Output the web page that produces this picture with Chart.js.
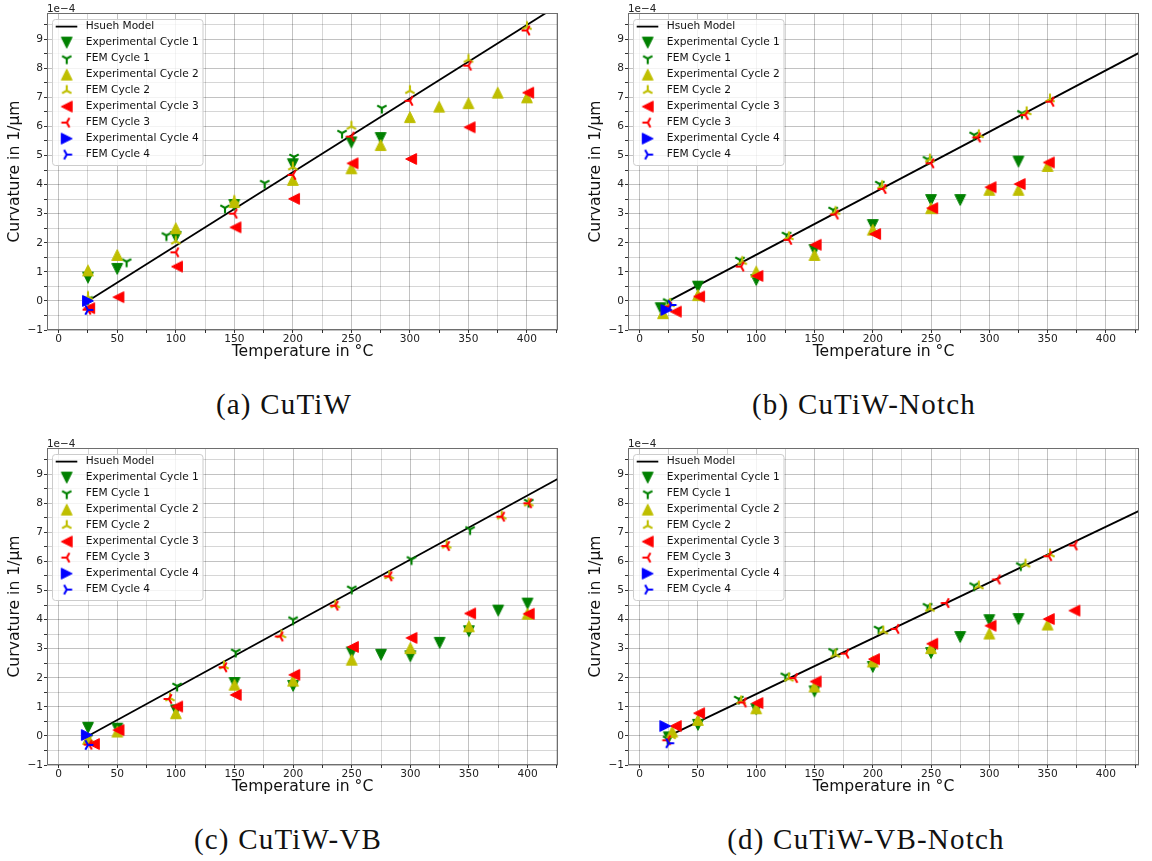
<!DOCTYPE html>
<html><head><meta charset="utf-8">
<script src="https://cdn.jsdelivr.net/npm/chart.js@4.4.1/dist/chart.umd.min.js"></script>
<style>
html,body{margin:0;padding:0;background:#fff;}
body{width:1152px;height:861px;position:relative;overflow:hidden;}
.panel{position:absolute;width:576px;height:370px;}
.cap{position:absolute;font-family:'Liberation Serif',serif;font-size:29px;line-height:29px;letter-spacing:1.2px;color:#111;white-space:nowrap;transform:translateX(-50%);}
</style></head>
<body>
<div class="panel" style="left:0;top:0"><canvas id="ca" width="576" height="370"></canvas></div>
<div class="panel" style="left:576px;top:0"><canvas id="cb" width="576" height="370"></canvas></div>
<div class="panel" style="left:0;top:435px"><canvas id="cc" width="576" height="370"></canvas></div>
<div class="panel" style="left:576px;top:435px"><canvas id="cd" width="576" height="370"></canvas></div>
<div class="cap" style="left:284px;top:390px">(a) CuTiW</div>
<div class="cap" style="left:864px;top:390px">(b) CuTiW-Notch</div>
<div class="cap" style="left:288px;top:825px">(c) CuTiW-VB</div>
<div class="cap" style="left:866px;top:825px">(d) CuTiW-VB-Notch</div>
<script>
// ---- series meta ----
const seriesNames = ['Hsueh Model','Experimental Cycle 1','FEM Cycle 1','Experimental Cycle 2','FEM Cycle 2','Experimental Cycle 3','FEM Cycle 3','Experimental Cycle 4','FEM Cycle 4'];
const seriesColors = ['#000000','#008000','#008000','#bfbf00','#bfbf00','#ff0000','#ff0000','#0000ff','#0000ff'];
const seriesMarkers = ['line','v','1','^','2','<','3','>','4'];

// ---- tick labels ----
const xTickLabels = ['0','50','100','150','200','250','300','350','400'];
const yTickLabels = ['\u22121','0','1','2','3','4','5','6','7','8','9'];
const yOffsetText = '1e\u22124';

// ---- (a) CuTiW  (curvature in 1e-4 1/µm) ----
const aHsueh = [[25,0],[428,10.2]];
const aExp1 = [[25,0.8],[50,1.1],[100,2.2],[150,3.3],[200,4.7],[250,5.45],[275,5.6]];
const aFem1 = [[25,0.05],[58,1.35],[92,2.25],[142,3.2],[176,4.05],[201,4.95],[242,5.77],[276,6.63]];
const aExp2 = [[25,1.05],[50,1.58],[100,2.5],[150,3.4],[200,4.16],[250,4.56],[275,5.36],[300,6.32],[325,6.68],[350,6.8],[375,7.16],[400,7.0]];
const aFem2 = [[25,0.15],[100,2.05],[150,3.45],[200,4.6],[250,6.0],[300,7.23],[350,8.3],[400,9.43]];
const aExp3 = [[26,-0.25],[51,0.13],[101,1.18],[151,2.53],[201,3.51],[251,4.73],[301,4.88],[351,5.97],[401,7.16]];
const aFem3 = [[25,-0.3],[100,1.67],[150,3.0],[200,4.33],[250,5.65],[300,6.88],[350,8.09],[400,9.3]];
const aExp4 = [[25,0.0]];
const aFem4 = [[25,-0.31]];

// ---- (b) CuTiW-Notch ----
const bHsueh = [[25,0],[428,8.52]];
const bExp1 = [[18,-0.25],[50,0.49],[100,0.72],[150,1.75],[200,2.61],[250,3.47],[275,3.47],[325,4.79]];
const bFem1 = [[24,-0.02],[86,1.41],[126,2.27],[166,3.13],[206,4.02],[247,4.87],[287,5.71],[328,6.45]];
const bExp2 = [[20,-0.42],[50,0.2],[100,1.01],[150,1.58],[200,2.45],[250,3.19],[300,3.82],[325,3.82],[350,4.64]];
const bFem2 = [[26,-0.1],[88,1.35],[128,2.2],[168,3.07],[208,3.96],[249,4.87],[291,5.71],[332,6.5],[352,6.94]];
const bExp3 = [[31,-0.37],[51,0.15],[101,0.86],[151,1.93],[202,2.3],[251,3.19],[301,3.91],[326,4.02],[351,4.76]];
const bFem3 = [[25,-0.2],[87,1.18],[128,2.1],[168,2.97],[209,3.85],[250,4.73],[290,5.62],[331,6.39],[353,6.85]];
const bExp4 = [[23,-0.31]];
const bFem4 = [[27,-0.14]];

// ---- (c) CuTiW-VB ----
const cHsueh = [[25,0],[428,8.89]];
const cExp1 = [[25,0.28],[50,0.25],[100,0.88],[150,1.82],[200,1.72],[250,2.87],[275,2.79],[300,2.74],[325,3.2],[350,3.6],[375,4.31],[400,4.55]];
const cFem1 = [[25,-0.05],[101,1.72],[151,2.89],[200,4.0],[250,5.06],[301,6.07],[351,7.1],[401,8.04]];
const cExp2 = [[25,-0.1],[50,0.15],[100,0.78],[150,1.76],[200,1.9],[250,2.62],[300,3.02],[350,3.77],[400,4.2]];
const cFem2 = [[27,-0.15],[95,1.3],[141,2.4],[190,3.47],[236,4.5],[282,5.5],[331,6.55],[378,7.55],[401,8.0]];
const cExp3 = [[30,-0.28],[51,0.2],[101,1.01],[151,1.41],[201,2.1],[251,3.06],[301,3.37],[351,4.21],[401,4.2]];
const cFem3 = [[26,-0.3],[94,1.27],[141,2.36],[189,3.42],[236,4.48],[282,5.49],[331,6.53],[378,7.54],[401,8.0]];
const cExp4 = [[24,0.03]];
const cFem4 = [[25,-0.31]];

// ---- (d) CuTiW-VB-Notch ----
const dHsueh = [[25,0],[428,7.73]];
const dExp1 = [[25,-0.05],[50,0.38],[100,0.92],[150,1.53],[200,2.37],[250,2.85],[275,3.4],[300,3.98],[325,4.02]];
const dFem1 = [[24,-0.1],[85,1.27],[125,2.07],[166,2.91],[205,3.68],[247,4.46],[287,5.17],[327,5.86]];
const dExp2 = [[28,0.15],[50,0.55],[100,0.95],[150,1.7],[200,2.56],[250,3.02],[300,3.52],[350,3.83]];
const dFem2 = [[27,0.0],[87,1.2],[128,1.98],[168,2.8],[209,3.6],[249,4.38],[291,5.15],[331,5.9],[352,6.25]];
const dExp3 = [[31,0.34],[51,0.78],[101,1.13],[151,1.87],[201,2.64],[251,3.17],[301,3.79],[351,4.02],[373,4.31]];
const dFem3 = [[24,-0.15],[89,1.15],[133,1.99],[177,2.83],[220,3.68],[263,4.57],[307,5.38],[351,6.18],[373,6.55]];
const dExp4 = [[22,0.34]];
const dFem4 = [[25,-0.25]];

// ---- marker images (matplotlib-like) ----
function makeMarker(kind, color){
  const c = document.createElement('canvas'); c.width = 16; c.height = 16;
  const g = c.getContext('2d'); g.translate(8,8);
  g.fillStyle = color; g.strokeStyle = color;
  const r = 5.4, s = 5.4;
  const tri = {'v':[[-r,-r],[r,-r],[0,r]], '^':[[0,-r],[-r,r],[r,r]], '<':[[-r,0],[r,-r],[r,r]], '>':[[r,0],[-r,-r],[-r,r]]};
  const arms = {'1':[[0,s],[-0.866*s,-0.5*s],[0.866*s,-0.5*s]], '2':[[0,-s],[-0.866*s,0.5*s],[0.866*s,0.5*s]],
                '3':[[-s,0],[0.5*s,-0.866*s],[0.5*s,0.866*s]], '4':[[s,0],[-0.5*s,-0.866*s],[-0.5*s,0.866*s]]};
  if (tri[kind]) {
    const p = tri[kind];
    g.beginPath(); g.moveTo(p[0][0],p[0][1]); g.lineTo(p[1][0],p[1][1]); g.lineTo(p[2][0],p[2][1]); g.closePath();
    g.fill(); g.lineWidth = 1; g.lineJoin = 'miter'; g.stroke();
  } else if (arms[kind]) {
    g.lineWidth = 2.1; g.lineCap = 'butt';
    g.beginPath();
    arms[kind].forEach(([x,y]) => { g.moveTo(0,0); g.lineTo(x,y); });
    g.stroke();
  }
  return c;
}
const markerImgs = seriesMarkers.map((m,i) => m === 'line' ? null : makeMarker(m, seriesColors[i]));

const xMajor = xTickLabels.map(Number);
const yMajor = yTickLabels.map(s => Number(s.replace('\u2212','-')));

Chart.defaults.font.family = "'DejaVu Sans', sans-serif";

const decor = {
  id: 'decor',
  afterDatasetsDraw(chart){
    const ctx = chart.ctx, a = chart.chartArea;
    ctx.save();
    // frame
    ctx.strokeStyle = '#6e6e6e'; ctx.lineWidth = 1;
    ctx.strokeRect(a.left + 0.5, a.top + 0.5, a.right - a.left - 1, a.bottom - a.top - 1);
    // offset text
    ctx.fillStyle = '#222'; ctx.font = "10.4px 'DejaVu Sans'"; ctx.textBaseline = 'alphabetic'; ctx.textAlign = 'left';
    ctx.fillText(yOffsetText, a.left, a.top - 1.5);
    // legend
    const L = a.left + 5, T = a.top + 6, W = 150.5, H = 146;
    ctx.beginPath();
    if (ctx.roundRect) ctx.roundRect(L + 0.5, T + 0.5, W, H, 3); else ctx.rect(L + 0.5, T + 0.5, W, H);
    ctx.fillStyle = 'rgba(255,255,255,0.8)'; ctx.fill();
    ctx.strokeStyle = '#cccccc'; ctx.lineWidth = 1; ctx.stroke();
    chart.data.datasets.forEach((ds, i) => {
      const cy = a.top + 13.6 + 16 * i;
      if (i === 0) {
        ctx.beginPath(); ctx.moveTo(L + 3.7, cy); ctx.lineTo(L + 25.3, cy);
        ctx.strokeStyle = ds.borderColor; ctx.lineWidth = 1.8; ctx.stroke();
      } else {
        const img = ds.pointStyle;
        ctx.drawImage(img, L + 14.7 - img.width / 2, cy - img.height / 2);
      }
      ctx.fillStyle = '#111'; ctx.textBaseline = 'middle'; ctx.font = "10.6px 'DejaVu Sans'";
      ctx.fillText(ds.label, L + 33.7, cy);
    });
    ctx.restore();
  }
};

const panels = [
  {canvas:'ca', series:[aHsueh,aExp1,aFem1,aExp2,aFem2,aExp3,aFem3,aExp4,aFem4], xMax:426.5, padLeft:0, padRight:18},
  {canvas:'cb', series:[bHsueh,bExp1,bFem1,bExp2,bFem2,bExp3,bFem3,bExp4,bFem4], xMax:428.4, padLeft:5, padRight:13},
  {canvas:'cc', series:[cHsueh,cExp1,cFem1,cExp2,cFem2,cExp3,cFem3,cExp4,cFem4], xMax:426, padLeft:0, padRight:18},
  {canvas:'cd', series:[dHsueh,dExp1,dFem1,dExp2,dFem2,dExp3,dFem3,dExp4,dFem4], xMax:428.4, padLeft:5, padRight:13}
];

const gridMajor = 'rgba(0,0,0,0.24)', gridMinor = 'rgba(0,0,0,0.16)';

panels.forEach(p => {
  const xTicks = []; for (let v = 0; v <= p.xMax; v += 25) xTicks.push(v);
  const yTicks = []; for (let v = -1; v < 9.9; v += 0.5) yTicks.push(Math.round(v * 10) / 10);
  new Chart(document.getElementById(p.canvas), {
    type: 'scatter',
    data: {
      datasets: p.series.map((pts, i) => ({
        label: seriesNames[i],
        data: pts.map(([x, y]) => ({x, y})),
        showLine: i === 0,
        borderColor: seriesColors[i],
        backgroundColor: seriesColors[i],
        borderWidth: i === 0 ? 1.8 : 0,
        pointRadius: i === 0 ? 0 : 5,
        pointHoverRadius: i === 0 ? 0 : 5,
        pointStyle: i === 0 ? false : markerImgs[i],
        order: seriesNames.length - i
      }))
    },
    options: {
      responsive: false, animation: false, devicePixelRatio: 1, events: [],
      layout: { padding: { left: p.padLeft, right: p.padRight, top: 13, bottom: 0 } },
      plugins: { legend: { display: false }, tooltip: { enabled: false } },
      scales: {
        x: {
          type: 'linear', min: -10, max: p.xMax,
          afterBuildTicks: s => { s.ticks = xTicks.map(v => ({value: v})); },
          afterFit: s => { s.height = 40; },
          border: { display: false },
          grid: {
            color: c => (xMajor.includes(c.tick && c.tick.value) ? gridMajor : gridMinor),
            lineWidth: 1, tickLength: 3, tickColor: '#333', drawTicks: true
          },
          ticks: {
            autoSkip: false, maxRotation: 0, minRotation: 0, padding: 0, color: '#222', font: { size: 10.6 },
            callback: v => { const k = xMajor.indexOf(v); return k >= 0 ? xTickLabels[k] : ''; }
          },
          title: { display: true, text: 'Temperature in °C', color: '#111', font: { size: 15.6 }, padding: { top: 0, bottom: 8.6 } }
        },
        y: {
          type: 'linear', min: -1, max: 9.9,
          afterBuildTicks: s => { s.ticks = yTicks.map(v => ({value: v})); },
          afterFit: s => { s.width = 47; },
          border: { display: false },
          grid: {
            color: c => (Number.isInteger(c.tick && c.tick.value) ? gridMajor : gridMinor),
            lineWidth: 1, tickLength: 3, tickColor: '#333', drawTicks: true
          },
          ticks: {
            autoSkip: false, padding: 1, color: '#222', font: { size: 10.6 },
            callback: v => { const k = yMajor.indexOf(v); return k >= 0 ? yTickLabels[k] : ''; }
          },
          title: { display: true, text: 'Curvature in 1/µm', color: '#111', font: { size: 15.6 }, padding: { top: 5.9, bottom: 0 } }
        }
      }
    },
    plugins: [decor]
  });
});
</script>
</body></html>
